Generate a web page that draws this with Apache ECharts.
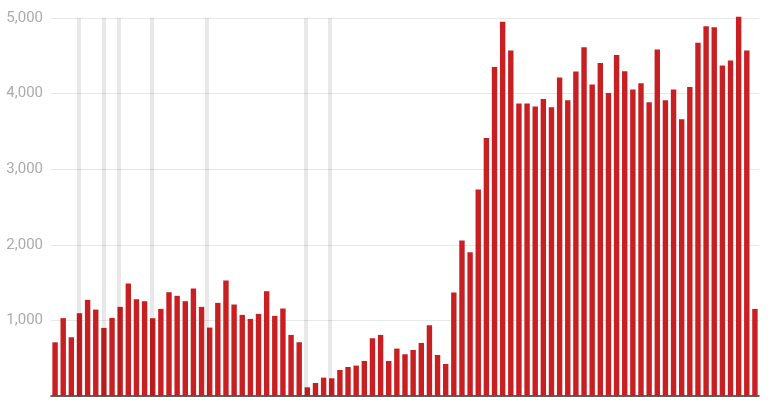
<!DOCTYPE html>
<html>
<head>
<meta charset="utf-8">
<script src="https://cdn.jsdelivr.net/npm/echarts@6/dist/echarts.min.js"></script>
<style>
html,body{margin:0;padding:0;background:#fff;}
#chart{width:770px;height:402px;}
</style>
</head>
<body>
<div id="chart"></div>
<script>
// Bar values, one per period (87 periods)
const values = [
  710, 1030, 777, 1095, 1272, 1143, 901, 1033, 1179, 1488,
  1280, 1254, 1029, 1152, 1373, 1325, 1254, 1422, 1179, 905,
  1232, 1528, 1210, 1073, 1020, 1086, 1386, 1060, 1157, 808,
  711, 115, 172, 243, 234, 344, 384, 402, 464, 764,
  808, 464, 627, 552, 609, 702, 936, 543, 424, 1369,
  2057, 1903, 2733, 3413, 4353, 4949, 4570, 3868, 3868, 3828,
  3929, 3819, 4212, 3911, 4291, 4614, 4119, 4406, 4009, 4512,
  4296, 4053, 4137, 3885, 4583, 3911, 4053, 3660, 4088, 4671,
  4892, 4879, 4371, 4437, 5015, 4570, 1152
];
const categories = values.map((_, i) => String(i + 1));
// Event markers, position along the period scale (period k spans k-1..k)
const eventPositions = [3.41, 6.52, 8.37, 12.42, 19.09, 31.36, 34.31];
const yTicks = [1000, 2000, 3000, 4000, 5000];

const chart = echarts.init(document.getElementById('chart'));
chart.setOption({
  animation: false,
  grid: { left: 51, right: 11, top: 18, bottom: 6, containLabel: false },
  xAxis: [
    {
      type: 'category',
      data: categories,
      boundaryGap: true,
      axisLine: { show: true, lineStyle: { color: '#333', width: 1.5 } },
      axisTick: { show: false },
      axisLabel: { show: false },
      splitLine: { show: false }
    },
    {
      type: 'value',
      min: 0,
      max: values.length,
      show: false
    }
  ],
  yAxis: {
    type: 'value',
    min: 0,
    max: yTicks[yTicks.length - 1],
    interval: 1000,
    axisLine: { show: false },
    axisTick: { show: false },
    splitLine: { show: true, lineStyle: { color: '#e8e8e8', width: 1 } },
    axisLabel: {
      color: '#ababab',
      fontFamily: 'Roboto',
      fontSize: 15,
      margin: 8,
      formatter: function (v) { return v === 0 ? '' : v.toLocaleString('en-US'); }
    }
  },
  series: [
    {
      type: 'bar',
      data: values,
      barWidth: 5.4,
      clip: false,
      itemStyle: { color: '#c81f22' },
      z: 2
    },
    {
      type: 'line',
      xAxisIndex: 1,
      data: [],
      z: 5,
      markLine: {
        silent: true,
        symbol: 'none',
        label: { show: false },
        lineStyle: { color: 'rgba(0,0,0,0.09)', width: 4, type: 'solid' },
        data: eventPositions.map(p => ({ xAxis: p }))
      }
    }
  ]
});
</script>
</body>
</html>
